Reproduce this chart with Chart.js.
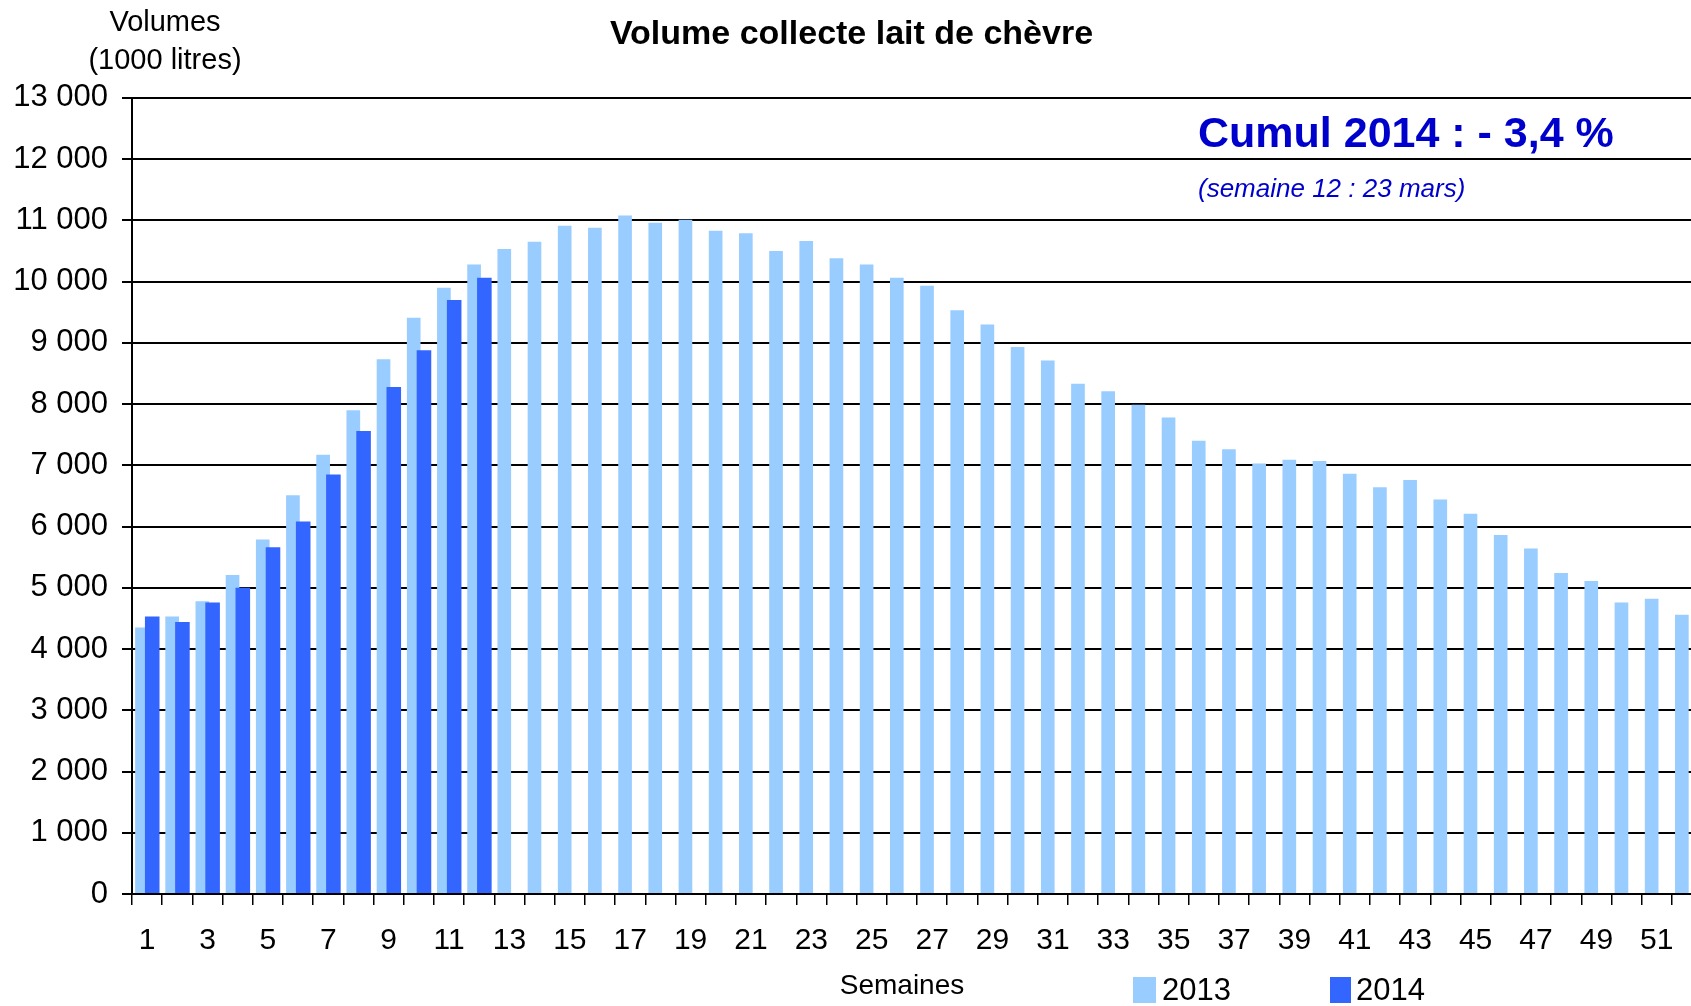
<!DOCTYPE html>
<html lang="fr">
<head>
<meta charset="utf-8">
<title>Volume collecte lait de chèvre</title>
<script src="https://cdn.jsdelivr.net/npm/chart.js@4.4.0/dist/chart.umd.min.js"></script>
<style>
  html, body { margin: 0; padding: 0; background: #fff; overflow: hidden; }
  #graphe { display: block; }
</style>
</head>
<body>
<canvas id="graphe" width="1705" height="1006"></canvas>
<script>
// semaines de collecte
const semaines = ['1','2','3','4','5','6','7','8','9','10','11','12','13','14','15','16','17','18','19','20',
  '21','22','23','24','25','26','27','28','29','30','31','32','33','34','35','36','37','38','39','40',
  '41','42','43','44','45','46','47','48','49','50','51','52'];

// volumes hebdo (1000 litres)
const volumes2013 = [4350, 4530, 4780, 5210, 5790, 6510, 7170, 7900, 8730, 9410, 9900, 10280,
  10530, 10650, 10910, 10880, 11080, 10960, 11010, 10830, 10790, 10500, 10660, 10380, 10280, 10060,
  9930, 9530, 9300, 8930, 8710, 8330, 8210, 7990, 7780, 7400, 7260, 7030, 7090, 7070, 6860, 6640,
  6760, 6440, 6210, 5860, 5640, 5240, 5110, 4760, 4820, 4560];
const volumes2014 = [4530, 4440, 4760, 5000, 5660, 6080, 6850, 7560, 8280, 8880, 9700, 10060];

const annees = ['2013', '2014'];
const couleurs = ['#99CCFF', '#3366FF'];
const yMax = 13000;
const yPas = 1000;

const police = "'Liberation Sans', Arial, sans-serif";
Chart.defaults.font.family = police;
Chart.defaults.color = '#000';

function formatMilliers(v) {
  if (v < 1000) return String(v);
  return Math.floor(v / 1000) + ' ' + String(v % 1000).padStart(3, '0');
}

// 2014 doit passer devant 2013 (chevauchement facon Excel)
const ordreBarres = {
  id: 'ordreBarres',
  beforeDatasetsDraw(chart) {
    chart.data.datasets.forEach((ds, i) => {
      const meta = chart.getDatasetMeta(i);
      if (!meta.hidden) meta.controller.draw();
    });
    return false;
  }
};

const textes = {
  id: 'textes',
  afterDraw(chart) {
    const c = chart.ctx;
    c.save();
    c.fillStyle = '#000';
    c.textAlign = 'center';
    c.textBaseline = 'middle';
    c.font = '29px ' + police;
    c.fillText('Volumes', 165, 23);
    c.fillText('(1000 litres)', 165, 61);
    c.font = '28px ' + police;
    c.fillText('Semaines', 902, 986);

    // legende
    c.textAlign = 'left';
    c.font = '31px ' + police;
    c.fillStyle = couleurs[0];
    c.fillRect(1133, 977, 23, 26);
    c.fillStyle = couleurs[1];
    c.fillRect(1330, 977, 21, 26);
    c.fillStyle = '#000';
    c.fillText(annees[0], 1162, 991);
    c.fillText(annees[1], 1356, 991);

    // encart cumul
    c.textBaseline = 'alphabetic';
    c.fillStyle = '#0000CC';
    c.font = 'bold 43px ' + police;
    c.fillText('Cumul 2014 : - 3,4 %', 1198, 147);
    c.font = 'italic 26px ' + police;
    c.fillText('(semaine 12 : 23 mars)', 1198, 197);
    c.restore();
  }
};

new Chart(document.getElementById('graphe'), {
  type: 'bar',
  data: {
    labels: semaines,
    datasets: [
      { label: annees[0], data: volumes2013, backgroundColor: couleurs[0], barPercentage: 1.33, categoryPercentage: 0.68 },
      { label: annees[1], data: volumes2014, backgroundColor: couleurs[1], barPercentage: 1.42, categoryPercentage: 0.68 }
    ]
  },
  options: {
    responsive: false,
    animation: false,
    devicePixelRatio: 1,
    layout: { padding: { left: 0, right: 2, top: 0, bottom: 0 } },
    plugins: {
      legend: { display: false },
      tooltip: { enabled: false },
      title: {
        display: true,
        text: 'Volume collecte lait de chèvre',
        color: '#000',
        font: { size: 34, weight: 'bold' },
        padding: { top: 14, bottom: 43 }
      }
    },
    scales: {
      x: {
        grid: { offset: true, drawOnChartArea: false, tickLength: 11, color: '#000', lineWidth: 1.5 },
        border: { color: '#000', width: 2 },
        ticks: {
          autoSkip: false,
          maxRotation: 0,
          padding: 18,
          font: { size: 30 },
          callback: (v, i) => (i % 2 === 0 ? semaines[i] : '')
        },
        afterFit: (s) => { s.height = 112; }
      },
      y: {
        min: 0,
        max: yMax,
        ticks: { stepSize: yPas, padding: 14, font: { size: 31 }, callback: (v) => formatMilliers(v) },
        grid: { color: '#000', lineWidth: 2, tickLength: 10 },
        border: { color: '#000', width: 2 },
        afterFit: (s) => { s.width = 132; }
      }
    }
  },
  plugins: [ordreBarres, textes]
});
</script>
</body>
</html>
